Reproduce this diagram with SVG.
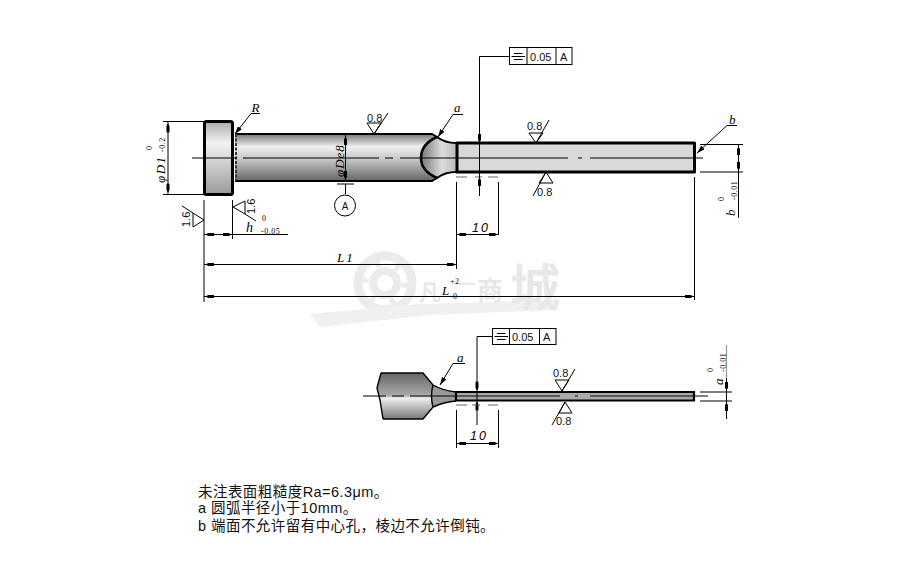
<svg xmlns="http://www.w3.org/2000/svg" width="918" height="580" viewBox="0 0 918 580">
<style>
.t{fill:none;stroke:#000;stroke-width:1}
.th{fill:none;stroke:#000;stroke-width:3;stroke-linejoin:round}
.m{fill:none;stroke:#000;stroke-width:2}
.d{font-family:"Liberation Serif",serif;font-style:italic;font-size:13px;fill:#000}
.dn{font-family:"Liberation Sans",sans-serif;font-style:italic;font-size:12.500px;letter-spacing:2px;fill:#000}
.tol{font-family:"Liberation Serif",serif;font-size:8px;fill:#000;letter-spacing:.5px}
.s{font-family:"Liberation Sans",sans-serif;font-size:11px;fill:#111}
.n{font-family:"Liberation Sans","Noto Sans CJK SC",sans-serif;font-size:14.500px;letter-spacing:.45px;fill:#111}
.wm{font-family:"Noto Sans CJK SC",sans-serif;font-weight:700;fill:#e8e8e8}
.ax{stroke:#000;stroke-width:1;fill:none}
</style>
<defs>
<marker id="a" viewBox="0 0 8 4" refX="8" refY="2" markerWidth="8" markerHeight="4" orient="auto" markerUnits="userSpaceOnUse"><path d="M0 .5H6L8 2L6 3.500H0Z" fill="#000"/></marker>
<marker id="ar" viewBox="0 0 8 5" refX="8" refY="2.500" markerWidth="8" markerHeight="5" orient="auto" markerUnits="userSpaceOnUse"><path d="M0 0L8 2.500L0 5Z" fill="#000"/></marker>
<linearGradient id="g1" x1="0" y1="0" x2="0" y2="1"><stop offset="0" stop-color="#777"/><stop offset=".27" stop-color="#f0f0f0"/><stop offset=".55" stop-color="#c4c4c4"/><stop offset="1" stop-color="#666"/></linearGradient>
<linearGradient id="g2" x1="0" y1="0" x2="0" y2="1"><stop offset="0" stop-color="#aaa"/><stop offset=".3" stop-color="#f2f2f2"/><stop offset="1" stop-color="#999"/></linearGradient>
<linearGradient id="g3" x1="0" y1="0" x2="0" y2="1"><stop offset="0" stop-color="#666"/><stop offset=".48" stop-color="#a8a8a8"/><stop offset=".55" stop-color="#eee"/><stop offset="1" stop-color="#777"/></linearGradient>
<linearGradient id="g4" x1="0" y1="0" x2="1" y2="0"><stop offset="0" stop-color="#777"/><stop offset=".6" stop-color="#ddd"/><stop offset="1" stop-color="#bbb"/></linearGradient>
</defs>

<g id="watermark">
<circle cx="385" cy="283" r="27" fill="none" stroke="#ebebeb" stroke-width="9"/>
<circle cx="385" cy="283" r="12" fill="none" stroke="#ebebeb" stroke-width="8"/>
<circle cx="385" cy="283" r="20" fill="none" stroke="#ebebeb" stroke-width="7" stroke-dasharray="5 15.900"/>
<path d="M310 314L420 304L560 300L552 310L430 315L320 327Z" fill="#f0f0f0"/>
<text class="wm" x="419" y="300" font-size="22">凡</text>
<text class="wm" x="458" y="291" font-size="18">一</text>
<text class="wm" x="477" y="300" font-size="26">商</text>
<text class="wm" x="510" y="306" font-size="50">城</text>
</g>

<g id="part-main">
<path d="M235 134H432L437 137Q445 143 456 143V172Q445 172 437 178L432 181H235Z" fill="url(#g1)"/>
<path d="M437 137Q421 144 421 158Q421 171 437 178Q445 172 456 172V143Q445 143 437 137Z" fill="url(#g4)"/>
<rect x="204" y="121" width="29" height="74" rx="2" fill="url(#g2)"/>
<rect x="456" y="143" width="239" height="29" fill="#d9d9d9"/>
<rect x="204.500" y="121.500" width="28" height="73" rx="2" class="th"/>
<path d="M235 134H432L437 137Q445 143 456 143M235 181H432L437 178Q445 172 456 172" class="m"/>
<path d="M236 134V181" stroke="#333" stroke-width="2" stroke-dasharray="3 1.500"/>
<path d="M437 137Q421 144 421 158Q421 171 437 178" class="m" style="stroke-width:2.500"/>
<path d="M457 143H694.500V172H457Z" class="th"/>
</g>

<g id="part-section">
<path d="M381 373H423L433 385Q444 391 456 392V401Q444 402 433 407L423 419H383L380 400L377 388Z" fill="url(#g3)"/>
<path d="M433 385Q444 391 456 392V401Q444 402 433 407Q430 396 433 385Z" fill="#999"/>
<rect x="456" y="391" width="238" height="10" fill="#aaa"/>
<path d="M381 373H423L433 385Q444 391 456 392M383 419H423L433 407Q444 402 456 401" class="m" style="stroke-width:1.400"/>
<path d="M381 373L377 388L380 400L383 419M433 385Q430 396 433 407" class="m" style="stroke-width:1.400"/>
<path d="M456 392H694V400.500H456Z" fill="none" stroke="#000" stroke-width="2.200"/>
</g>

<g id="connectors">
<path d="M192 158H237M243 158H379M385 158H393M400 158H568M578 158H582M590 158H703" class="ax"/>
<path d="M163 121.500H204M163 194.500H204M168 121.500V194.500" class="t"/>
<path d="M168 133V124" class="t" marker-end="url(#a)"/>
<path d="M168 183V192" class="t" marker-end="url(#a)"/>
<path d="M251 113.500H260" class="t"/>
<path d="M251 113.500L235 134" class="t" marker-end="url(#ar)"/>
<path d="M345.500 134V181" class="t"/>
<path d="M345.500 146V137" class="t" marker-end="url(#a)"/>
<path d="M345.500 170V179" class="t" marker-end="url(#a)"/>
<path d="M337 184H354M345.500 184V194" class="t"/>
<path d="M204 200V302M232.500 200V239M204 234.500H288" class="t"/>
<path d="M215 234.500H206" class="t" marker-end="url(#a)"/>
<path d="M222 234.500H231" class="t" marker-end="url(#a)"/>
<path d="M204 264.500H456.500" class="t"/>
<path d="M215 264.500H206" class="t" marker-end="url(#a)"/>
<path d="M446 264.500H455" class="t" marker-end="url(#a)"/>
<path d="M204 296.500H695" class="t"/>
<path d="M215 296.500H206" class="t" marker-end="url(#a)"/>
<path d="M684 296.500H693" class="t" marker-end="url(#a)"/>
<path d="M456.500 182V269M694.500 177V300" class="t"/>
<path d="M456 177H467M475 177H482M488 177H498" stroke="#666" stroke-width="1.200"/>
<path d="M498.500 182V235M456.500 234.500H498.500" class="t"/>
<path d="M467 234.500H458" class="t" marker-end="url(#a)"/>
<path d="M488 234.500H497" class="t" marker-end="url(#a)"/>
<path d="M453 114.500H463" class="t"/>
<path d="M453 114.500L438 137" class="t" marker-end="url(#ar)"/>
<path d="M509 56.500H479.500V196" class="t"/>
<path d="M479.500 133V142" class="t" marker-end="url(#a)"/>
<path d="M479.500 187V178" class="t" marker-end="url(#a)"/>
<path d="M727 125.500H737" class="t"/>
<path d="M727 125.500L697 153" class="t" marker-end="url(#ar)"/>
<path d="M700 144.500H743M700 172H743M738.500 144V218" class="t"/>
<path d="M738.500 156V147" class="t" marker-end="url(#a)"/>
<path d="M738.500 161V170" class="t" marker-end="url(#a)"/>

<path d="M363 396H386M392 396H404M410 396H560M575 396H578M590 396H708" class="ax"/>
<path d="M453 363.500H465" class="t"/>
<path d="M453 363.500L440 385" class="t" marker-end="url(#ar)"/>
<path d="M492 336.500H477V425" class="t"/>
<path d="M477 381V390" class="t" marker-end="url(#a)"/>
<path d="M477 411V402" class="t" marker-end="url(#a)"/>
<path d="M456 405H467M472 405H480M488 405H498" stroke="#666" stroke-width="1.200"/>
<path d="M456.500 410V448M498.500 410V448M456.500 443.500H498.500" class="t"/>
<path d="M467 443.500H458" class="t" marker-end="url(#a)"/>
<path d="M488 443.500H497" class="t" marker-end="url(#a)"/>
<path d="M700 392H732M700 401H732M726.500 378V419" class="t"/>
<path d="M726.500 382V390" class="t" marker-end="url(#a)"/>
<path d="M726.500 411V403" class="t" marker-end="url(#a)"/>
<path d="M726.500 345V378" stroke="#999" stroke-width="1.200"/>
</g>

<g id="roughness-marks" class="t">
<path d="M367 123H381L374 134ZM374 134L388 113"/>
<path d="M529 133H543L536 143ZM536 143L549 120"/>
<path d="M539 183H553L546 172ZM546 172L533 196"/>
<path d="M555 380H569L562 391ZM562 391L575 369"/>
<path d="M559 413H572L565 402ZM565 402L552 425"/>
<path d="M204 220L193 213V227ZM193 213L182 206"/>
<path d="M233 207L245 201V214ZM245 214L256 221"/>
</g>

<g id="tol-main">
<rect x="509.500" y="47.500" width="62.500" height="17" fill="#fff" stroke="#000"/>
<path d="M527 47.500V64.500M556 47.500V64.500M514 53.500H522.500M511.500 56.500H525M514 59.500H522.500" class="t"/>
<text class="s" x="530" y="60.500">0.05</text>
<text class="s" x="560" y="60.500">A</text>
</g>
<g id="tol-section">
<rect x="492.500" y="328.500" width="63.500" height="16" fill="#fff" stroke="#000"/>
<path d="M509.500 328.500V344.500M539.500 328.500V344.500M497 333.500H505.500M494.500 336.500H508M497 339.500H505.500" class="t"/>
<text class="s" x="512" y="340.500">0.05</text>
<text class="s" x="543" y="340.500">A</text>
</g>
<g id="datum-A">
<circle cx="345" cy="205.500" r="10.500" fill="#fff" stroke="#000"/>
<text class="s" x="345" y="209.500" text-anchor="middle" style="font-size:10px">A</text>
</g>

<g id="labels">
<text class="d" x="251.500" y="112">R</text>
<text class="d" x="454" y="112">a</text>
<text class="d" x="729" y="124">b</text>
<text class="d" x="457" y="362">a</text>
<text class="d" x="337" y="262" letter-spacing="2">L1</text>
<text class="d" x="442" y="295">L</text>
<text class="tol" x="450" y="284">+2</text>
<text class="tol" x="453" y="299">0</text>
<text class="d" x="246" y="232" style="font-size:14px">h</text>
<text class="tol" x="262" y="221">0</text>
<text class="tol" x="261" y="234">-0.05</text>
<text class="dn" x="472" y="232">10</text>
<text class="dn" x="470" y="440">10</text>
<text class="s" x="367" y="122">0.8</text>
<text class="s" x="527" y="129.500">0.8</text>
<text class="s" x="537" y="196">0.8</text>
<text class="s" x="553" y="377">0.8</text>
<text class="s" x="556" y="425">0.8</text>
<text class="d" transform="translate(165 183) rotate(-90)" letter-spacing="1.500">φD1</text>
<text class="tol" transform="translate(165 152) rotate(-90)">-0.2</text>
<text class="tol" transform="translate(152 150) rotate(-90)">0</text>
<text class="d" transform="translate(344 177) rotate(-90)" letter-spacing="1">φDe8</text>
<text class="s" transform="translate(190 227) rotate(-90)">1.6</text>
<text class="s" transform="translate(255 214) rotate(-90)">1.6</text>
<text class="d" transform="translate(735 216) rotate(-90)">b</text>
<text class="tol" transform="translate(737 200) rotate(-90)">-0.01</text>
<text class="tol" transform="translate(724 201) rotate(-90)">0</text>
<text class="d" transform="translate(723 385) rotate(-90)">a</text>
<text class="tol" transform="translate(726 372) rotate(-90)">-0.01</text>
<text class="tol" transform="translate(713 372) rotate(-90)">0</text>
</g>

<g id="notes">
<text class="n" x="198" y="497">未注表面粗糙度Ra=6.3μm。</text>
<text class="n" x="198" y="513">a 圆弧半径小于10mm。</text>
<text class="n" x="198" y="530.500">b 端面不允许留有中心孔，棱边不允许倒钝。</text>
</g>
</svg>
